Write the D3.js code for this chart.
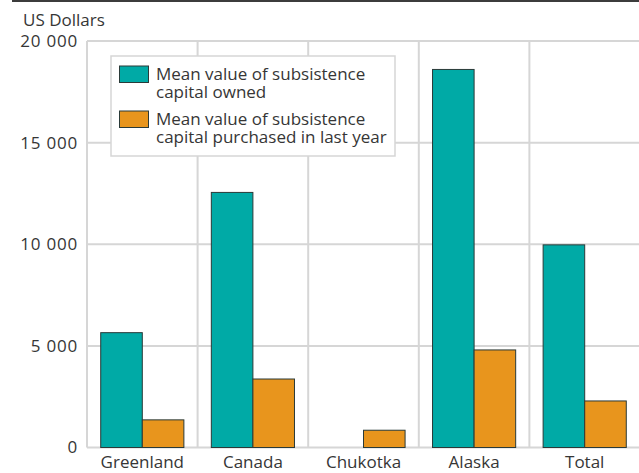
<!DOCTYPE html>
<html>
<head>
<meta charset="utf-8">
<script src="https://cdn.jsdelivr.net/npm/d3@7"></script>
<style>
  html, body { margin: 0; padding: 0; background: #fff; }
  svg { display: block; font-family: "Open Sans", "Noto Sans", sans-serif; }
</style>
</head>
<body>
<svg id="chart" width="639" height="473"></svg>
<script>
// Regions and mean subsistence capital values (US dollars)
const regions = ["Greenland", "Canada", "Chukotka", "Alaska", "Total"];
const owned = [5650, 12550, 0, 18600, 9970];
const purchased = [1360, 3370, 850, 4800, 2290];
const seriesNames = [
  ["Mean value of subsistence", "capital owned"],
  ["Mean value of subsistence", "capital purchased in last year"]
];
const colors = ["#00aaa6", "#e8951d"];
const yTicks = [0, 5000, 10000, 15000, 20000];
const yTitle = "US Dollars";

const svg = d3.select("#chart");
const margin = { left: 87, top: 41, right: -1, bottom: 25.5 };
const W = 639, H = 473;
const FS = 17;
const TXT = "#363636";

const x = d3.scaleBand().domain(regions)
  .range([margin.left, W - margin.right]).paddingInner(0).paddingOuter(0);
const y = d3.scaleLinear().domain([0, 20000]).range([H - margin.bottom, margin.top]);
const sub = d3.scaleBand().domain([0, 1]).range([0, x.bandwidth()]).paddingOuter(0.33).paddingInner(0);

const fmt = v => d3.format(",")(v).replace(/,/g, " ");

// top rule
svg.append("line").attr("x1", 12).attr("x2", W).attr("y1", 1).attr("y2", 1)
  .attr("stroke", "#3c3c3c").attr("stroke-width", 2);

// grid
const grid = svg.append("g").attr("stroke", "#d6d6d6").attr("stroke-width", 2);
grid.selectAll(".h").data(yTicks).join("line")
  .attr("x1", margin.left).attr("x2", W)
  .attr("y1", d => y(d)).attr("y2", d => y(d));
grid.selectAll(".v").data(regions.map(r => x(r)).concat([x(regions[regions.length - 1]) + x.bandwidth()]))
  .join("line")
  .attr("x1", d => d).attr("x2", d => d)
  .attr("y1", y(20000)).attr("y2", y(0));

// y axis labels
const yAxis = d3.axisLeft(y).tickValues(yTicks).tickFormat(fmt).tickSize(0).tickPadding(9);
const ya = svg.append("g").attr("transform", `translate(${margin.left},0)`).call(yAxis);
ya.select(".domain").remove();
ya.selectAll("text").attr("font-size", FS).attr("fill", TXT).attr("letter-spacing", 0.8)
  .attr("font-family", "\"Open Sans\", sans-serif");

svg.append("text").attr("x", 23).attr("y", 26).attr("font-size", FS).attr("fill", TXT)
  .text(yTitle);

// x axis labels
const xAxis = d3.axisBottom(x).tickSize(0).tickPadding(8);
const xa = svg.append("g").attr("transform", `translate(0,${y(0)})`).call(xAxis);
xa.select(".domain").remove();
xa.selectAll("text").attr("font-size", FS).attr("fill", TXT)
  .attr("font-family", "\"Open Sans\", sans-serif");

// bars
const series = [owned, purchased];
series.forEach((vals, si) => {
  svg.append("g").selectAll("rect")
    .data(regions.map((r, i) => ({ r, v: vals[i] })).filter(d => d.v > 0))
    .join("rect")
    .attr("x", d => x(d.r) + sub(si))
    .attr("width", sub.bandwidth())
    .attr("y", d => y(d.v))
    .attr("height", d => y(0) - y(d.v))
    .attr("fill", colors[si])
    .attr("stroke", "#2a3a38")
    .attr("stroke-width", 1);
});

// legend: one two-line text block per series
const lg = svg.append("g");
lg.append("rect").attr("x", 111).attr("y", 56).attr("width", 284).attr("height", 100)
  .attr("fill", "#fff").attr("stroke", "#d6d6d6").attr("stroke-width", 1.5);
seriesNames.forEach((lines, i) => {
  const top = 66 + i * 45;
  lg.append("rect").attr("x", 119.5).attr("y", top).attr("width", 29).attr("height", 16.5)
    .attr("fill", colors[i]).attr("stroke", "#2a3a38").attr("stroke-width", 1);
  const t = lg.append("text").attr("x", 156).attr("y", top + 13.5)
    .attr("font-size", FS).attr("fill", TXT);
  lines.forEach((line, j) => {
    t.append("tspan").attr("x", 156).attr("dy", j === 0 ? 0 : 18.5).text(line);
  });
});
</script>
</body>
</html>
